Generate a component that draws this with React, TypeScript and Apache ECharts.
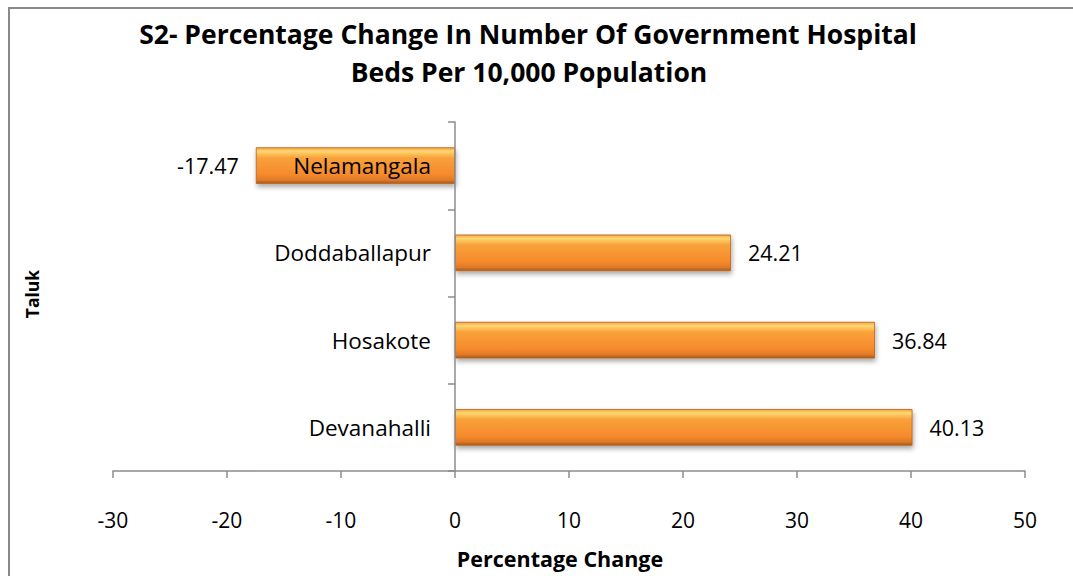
import React, { useEffect, useRef } from "react";
import * as echarts from "echarts";

const categories = ["Devanahalli", "Hosakote", "Doddaballapur", "Nelamangala"];
const values = [40.13, 36.84, 24.21, -17.47];
const xTicks = { min: -30, max: 50, interval: 10 };
const titleLine1 = "S2- Percentage Change In Number Of Government Hospital";
const titleLine2 = "Beds Per 10,000 Population";
const xName = "Percentage Change";
const yName = "Taluk";

const FONT = "'Open Sans', sans-serif";

export default function App() {
  const ref = useRef<HTMLDivElement>(null);
  useEffect(() => {
    const chart = echarts.init(ref.current!, null, { renderer: "svg" });
    const barColor = new echarts.graphic.LinearGradient(0, 0, 0, 1, [
      { offset: 0, color: "#f6a23c" },
      { offset: 0.1, color: "#fdd772" },
      { offset: 0.28, color: "#f9a13a" },
      { offset: 0.75, color: "#f58a2c" },
      { offset: 0.9, color: "#e07a28" },
      { offset: 1, color: "#a8581c" },
    ]);
    const titleStyle = {
      fontFamily: FONT,
      fontWeight: "bold" as const,
      fontSize: 26.5,
      color: "#000",
    };
    chart.setOption({
      animation: false,
      backgroundColor: "#ffffff",
      title: [
        { text: titleLine1, left: 523, top: 15, textAlign: "center", textStyle: titleStyle },
        { text: titleLine2, left: 524, top: 53, textAlign: "center", textStyle: titleStyle },
      ],
      graphic: [
        {
          type: "rect",
          shape: { x: 9, y: 8, width: 1100, height: 600 },
          style: { fill: "none", stroke: "#8a8a8a", lineWidth: 2 },
          z: 100,
        },
        {
          type: "text",
          x: 32,
          y: 294,
          rotation: Math.PI / 2,
          style: {
            text: yName,
            fontFamily: FONT,
            fontWeight: "bold",
            fontSize: 17.5,
            fill: "#000",
            align: "center",
            verticalAlign: "middle",
          },
        },
        {
          type: "text",
          x: 560,
          y: 558,
          style: {
            text: xName,
            fontFamily: FONT,
            fontWeight: "bold",
            fontSize: 21.5,
            fill: "#000",
            align: "center",
            verticalAlign: "middle",
          },
        },
      ],
      grid: { left: 113, right: 48, top: 122, bottom: 105, containLabel: false, outerBoundsMode: "none" },
      xAxis: {
        type: "value",
        min: xTicks.min,
        max: xTicks.max,
        interval: xTicks.interval,
        axisLine: { show: true, lineStyle: { color: "#8c8c8c", width: 1.5 } },
        axisTick: { show: true, length: 7, lineStyle: { color: "#8c8c8c", width: 1.5 } },
        axisLabel: { fontFamily: FONT, fontSize: 21, color: "#000", margin: 38 },
        splitLine: { show: false },
      },
      yAxis: {
        type: "category",
        data: categories,
        z: 10,
        offset: -342,
        axisLine: { show: true, onZero: false, lineStyle: { color: "#8c8c8c", width: 1.5 } },
        axisTick: { show: true, length: 7, lineStyle: { color: "#8c8c8c", width: 1.5 } },
        axisLabel: { fontFamily: FONT, fontSize: 22.5, color: "#000", margin: 24 },
        splitLine: { show: false },
      },
      series: [
        {
          type: "bar",
          data: values.map((v) => ({
            value: v,
            label: { position: v < 0 ? "left" : "right" },
          })),
          barWidth: "42%",
          itemStyle: {
            color: barColor,
            borderColor: "#b5621f",
            borderWidth: 0.8,
            shadowBlur: 5,
            shadowOffsetY: 3,
            shadowOffsetX: 1,
            shadowColor: "rgba(0,0,0,0.35)",
          },
          label: {
            show: true,
            distance: 17,
            fontFamily: FONT,
            fontSize: 21.5,
            color: "#000",
            formatter: (p: any) => p.value.toFixed(2),
          },
        },
      ],
    });
    return () => chart.dispose();
  }, []);
  return (
    <div
      ref={ref}
      style={{ position: "fixed", left: 0, top: 0, width: 1073, height: 576 }}
    />
  );
}
